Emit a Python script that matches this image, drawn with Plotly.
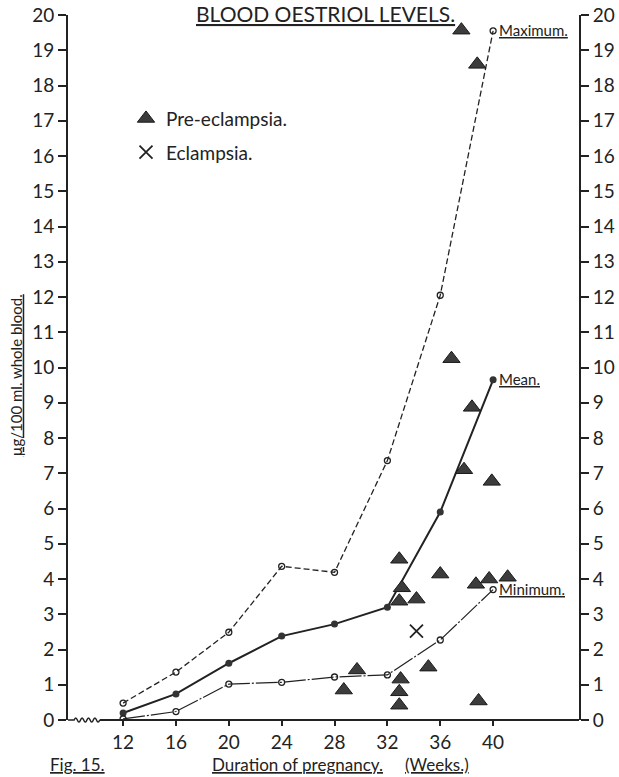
import plotly.graph_objects as go

# Weekly summary of blood oestriol (µg/100 ml whole blood)
weeks = [12, 16, 20, 24, 28, 32, 36, 40]
maximum = [0.48, 1.36, 2.49, 4.36, 4.19, 7.36, 12.05, 19.55]
mean = [0.20, 0.74, 1.61, 2.38, 2.72, 3.20, 5.90, 9.65]
minimum = [0.03, 0.24, 1.02, 1.07, 1.22, 1.28, 2.27, 3.70]

# Individual cases
pre_weeks = [37.6, 38.8, 36.85, 38.4, 37.8, 39.9, 32.9, 36.0, 38.7, 39.7, 41.1,
             33.1, 32.9, 34.2, 29.7, 35.1, 28.7, 33.0, 32.9, 32.9, 38.9]
pre_values = [19.57, 18.6, 10.25, 8.87, 7.1, 6.77, 4.56, 4.14, 3.85, 4.0, 4.05,
              3.75, 3.37, 3.43, 1.42, 1.5, 0.85, 1.16, 0.8, 0.42, 0.54]
ecl_weeks = [34.2]
ecl_values = [2.52]

x_ticks = [12, 16, 20, 24, 28, 32, 36, 40]
y_ticks = list(range(0, 21))
y_tick_labels = [str(v) for v in y_ticks]

FONT = "Lato"
INK = "#222222"
X_RANGE = [7.83, 46.5]
Y_RANGE = [0, 20]

fig = go.Figure()

fig.add_trace(go.Scatter(
    x=weeks, y=maximum, mode="lines+markers", showlegend=False,
    line=dict(color=INK, width=1.3, dash="6px,3px"),
    marker=dict(symbol="circle-open", size=6, color=INK, line=dict(width=1.3)),
))
fig.add_trace(go.Scatter(
    x=weeks, y=mean, mode="lines+markers", showlegend=False,
    line=dict(color=INK, width=2),
    marker=dict(symbol="circle", size=7, color="#333333"),
))
fig.add_trace(go.Scatter(
    x=weeks, y=minimum, mode="lines+markers", showlegend=False,
    line=dict(color=INK, width=1.2, dash="22px,2px,2px,2px"),
    marker=dict(symbol="circle-open", size=6, color=INK, line=dict(width=1.3)),
))
fig.add_trace(go.Scatter(
    x=pre_weeks, y=pre_values, mode="markers", name="Pre-eclampsia.",
    legendgroup="pre",
    marker=dict(symbol="triangle-up", size=15, color="#3c3c3c",
                line=dict(color="#1a1a1a", width=1)),
))
fig.add_trace(go.Scatter(
    x=ecl_weeks, y=ecl_values, mode="markers", name="Eclampsia.",
    legendgroup="ecl",
    marker=dict(symbol="x-thin", size=13, color=INK,
                line=dict(color=INK, width=1.8)),
))
# mirrored scale on the right-hand side
fig.add_trace(go.Scatter(x=[None], y=[None], yaxis="y2", showlegend=False))

axis_font = dict(family=FONT, size=19, color=INK)
fig.update_layout(
    width=619, height=777,
    margin=dict(l=68, r=40, t=15, b=57, autoexpand=False),
    paper_bgcolor="white", plot_bgcolor="white",
    font=dict(family=FONT, color=INK),
    xaxis=dict(range=X_RANGE, tickvals=x_ticks, ticktext=[str(v) for v in x_ticks],
               showline=False, showgrid=False, zeroline=False, automargin=False,
               ticks="outside", ticklen=5, tickwidth=1.5, tickcolor=INK,
               tickfont=axis_font),
    yaxis=dict(range=Y_RANGE, tickvals=y_ticks, ticktext=y_tick_labels,
               showline=True, linecolor=INK, linewidth=2, mirror=False,
               showgrid=False, zeroline=False, automargin=False,
               ticks="outside", ticklen=8, tickwidth=1.5, tickcolor=INK,
               tickfont=axis_font),
    yaxis2=dict(range=Y_RANGE, tickvals=y_ticks, ticktext=y_tick_labels,
                overlaying="y", side="right", automargin=False,
                showline=True, linecolor=INK, linewidth=2,
                showgrid=False, zeroline=False,
                ticks="outside", ticklen=8, tickwidth=1.5, tickcolor=INK,
                tickfont=axis_font),
    legend=dict(x=0.1135, y=0.880, xanchor="left", yanchor="top",
                traceorder="grouped", tracegroupgap=6,
                bgcolor="rgba(0,0,0,0)", font=dict(family=FONT, size=19, color=INK),
                itemwidth=30),
)

# x axis line with a broken (wavy) section near the origin
break_start, break_end = 0.012, 0.062
wave = "M 0,0 L %.3f,0" % break_start
n = 8
step = (break_end - break_start) / n
for i in range(n):
    x0 = break_start + i * step
    amp = 0.006 if i % 2 == 0 else -0.006
    wave += " Q %.4f,%.4f %.4f,0" % (x0 + step / 2, amp, x0 + step)
fig.add_shape(type="path", path=wave, xref="paper", yref="paper",
              line=dict(color=INK, width=1.5))
fig.add_shape(type="line", x0=break_end, x1=1, y0=0, y1=0,
              xref="paper", yref="paper", line=dict(color=INK, width=2))

# curve labels at the 40-week end
for series, label in [(maximum, "Maximum."), (mean, "Mean."), (minimum, "Minimum.")]:
    fig.add_annotation(x=weeks[-1], y=series[-1], xref="x", yref="y",
                       text="<u>%s</u>" % label, showarrow=False,
                       xanchor="left", yanchor="middle", xshift=4, yshift=1,
                       font=dict(family=FONT, size=15, color=INK))

# titles
fig.add_annotation(x=0.5, y=1.0, xref="paper", yref="paper",
                   text="<u>BLOOD OESTRIOL LEVELS.</u>", showarrow=False,
                   xanchor="center", yanchor="top", xshift=2, yshift=15,
                   borderpad=0,
                   font=dict(family=FONT, size=21, color=INK))
fig.add_annotation(x=0, y=0.489, xref="paper", yref="paper",
                   text="<u>µg/100 ml. whole blood.</u>", showarrow=False,
                   textangle=-90, xanchor="center", yanchor="middle",
                   xshift=-52, yshift=0,
                   font=dict(family=FONT, size=15, color=INK))
fig.add_annotation(x=0, y=0, xref="paper", yref="paper",
                   text="<u>Fig. 15.</u>", showarrow=False,
                   xanchor="left", yanchor="top", xshift=-20, yshift=-32,
                   font=dict(family=FONT, size=17, color=INK))
fig.add_annotation(x=0, y=0, xref="paper", yref="paper",
                   text="<u>Duration of pregnancy.</u>",
                   showarrow=False, xanchor="left", yanchor="top",
                   xshift=142, yshift=-32,
                   font=dict(family=FONT, size=17, color=INK))
fig.add_annotation(x=0, y=0, xref="paper", yref="paper",
                   text="<u>(Weeks.)</u>",
                   showarrow=False, xanchor="left", yanchor="top",
                   xshift=335, yshift=-32,
                   font=dict(family=FONT, size=17, color=INK))

fig.write_html("out.html")
